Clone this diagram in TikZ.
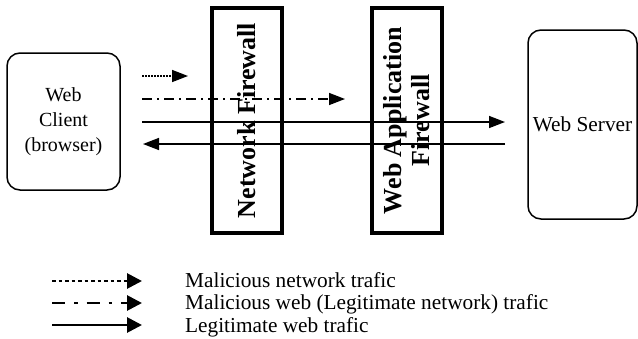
\documentclass[tikz,border=0pt]{standalone}
\usepackage{fontspec}
\setmainfont{Liberation Serif}
\usetikzlibrary{arrows.meta}
\begin{document}
\begin{tikzpicture}[x=1pt,y=-1pt,
  box/.style={draw, line width=1.5pt, rounded corners=13pt, align=center,
    font=\fontsize{20}{25}\selectfont},
  fw/.style={draw, line width=4pt, rotate=90, minimum width=225pt, minimum height=70pt,
    align=center, inner sep=0pt, font=\bfseries\fontsize{26}{28}\selectfont},
  flow/.style={line width=1.5pt, -{Triangle[length=16pt,width=12pt]}},
  leg/.style={line width=2.8pt, -{Triangle[length=15pt,width=15pt]}},
  dotline/.style={dash pattern=on 1.5pt off 1.5pt},
  dotlineleg/.style={dash pattern=on 3.5pt off 3pt},
  dashdot/.style={dash pattern=on 10pt off 5pt on 2pt off 5pt},
  dashdotleg/.style={dash pattern=on 13pt off 9pt on 3.5pt off 9pt},
  legtext/.style={anchor=base west, inner sep=0pt, font=\fontsize{21.3}{24}\selectfont}]
\useasboundingbox (0,0) rectangle (638,338);

\node[box, minimum width=113pt, minimum height=137pt] (client) at (63.5,121.5) {Web\\Client\\(browser)};
\node[box, minimum width=109pt, minimum height=189pt, font=\fontsize{21.3}{25}\selectfont] (server) at (582.5,124.5) {Web Server};

\node[fw] (nf) at (246.5,120.5) {Network Firewall};
\node[fw] (waf) at (406.5,120.5) {Web Application\\Firewall};

\coordinate (a1s) at (142,76);  \coordinate (a1e) at (188,76);
\coordinate (a2s) at (142,99);  \coordinate (a2e) at (345,99);
\coordinate (a3s) at (142,122); \coordinate (a3e) at (505,122);
\coordinate (a4s) at (505,144); \coordinate (a4e) at (143,144);

\draw[flow, dotline] (a1s) -- (a1e);
\draw[flow, dashdot] (a2s) -- (a2e);
\draw[flow] (a3s) -- (a3e);
\draw[flow] (a4s) -- (a4e);

\coordinate (l1s) at (52,281);  \coordinate (l1e) at (142,281);
\coordinate (l2s) at (52,303);  \coordinate (l2e) at (142,303);
\coordinate (l3s) at (52,325);  \coordinate (l3e) at (142,325);
\draw[leg, dotlineleg] (l1s) -- (l1e);
\draw[leg, dashdotleg] (l2s) -- (l2e);
\draw[leg] (l3s) -- (l3e);

\node[legtext] (t1) at (185,287) {Malicious network trafic};
\node[legtext] (t2) at (185,309.5) {Malicious web (Legitimate network) trafic};
\node[legtext] (t3) at (185,332) {Legitimate web trafic};
\end{tikzpicture}
\end{document}
